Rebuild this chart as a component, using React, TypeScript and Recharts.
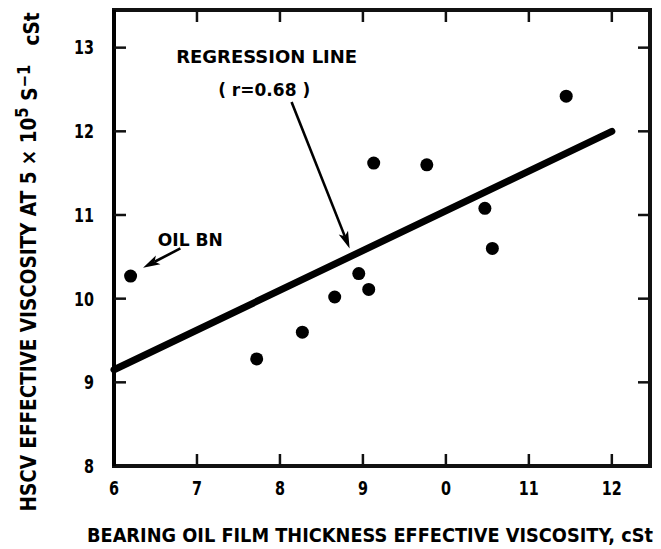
import React from "react";
import {
  ScatterChart,
  Scatter,
  XAxis,
  YAxis,
  ReferenceLine,
  ReferenceDot,
} from "recharts";

// bearing film-thickness viscosity (cSt) vs HSCV effective viscosity (cSt)
const bearingVisc = [6.2, 7.72, 8.27, 8.66, 8.95, 9.07, 9.13, 9.77, 10.47, 10.56, 11.45];
const hscvVisc = [10.27, 9.28, 9.6, 10.02, 10.3, 10.11, 11.62, 11.6, 11.08, 10.6, 12.42];

const xTicks = [6, 7, 8, 9, 10, 11, 12];
const xTickLabels = ["6", "7", "8", "9", "0", "11", "12"];
const yTicks = [8, 9, 10, 11, 12, 13];

// fitted line end points
const regressionX = [6, 12];
const regressionY = [9.15, 12.0];

// annotation text and where it sits (data units)
const noteText = ["REGRESSION LINE", "( r=0.68 )", "OIL BN"];
const noteX = [7.84, 7.81, 6.92];
const noteY = [12.89, 12.5, 10.71];

// pointer arrows: [from, to] in data units
const arrowFrom = [
  { x: 8.14, y: 12.35 },
  { x: 6.8, y: 10.6 },
];
const arrowTo = [
  { x: 8.84, y: 10.6 },
  { x: 6.35, y: 10.37 },
];

const points = bearingVisc.map((x, i) => ({ x, y: hscvVisc[i] }));

// layout
const W = 661;
const H = 549;
const M_TOP = 10;
const M_RIGHT = 11;
const Y_AXIS_W = 114;
const X_AXIS_H = 83;
const PLOT_LEFT = Y_AXIS_W;
const PLOT_RIGHT = W - M_RIGHT;
const PLOT_TOP = M_TOP;
const PLOT_BOTTOM = H - X_AXIS_H;
const STUB = 12;
const INK = "#111";

const FONT = "'DejaVu Sans', sans-serif";
const noteLength = [181, 92, 65];

const Dot = (p: any) => <circle cx={p.cx} cy={p.cy} r={6.5} fill="#000" />;

const Arrow = (p: any) => {
  const a = Math.atan2(p.y2 - p.y1, p.x2 - p.x1);
  const len = 17;
  const half = 5;
  const bx = p.x2 - len * Math.cos(a);
  const by = p.y2 - len * Math.sin(a);
  const nx = -Math.sin(a) * half;
  const ny = Math.cos(a) * half;
  const mx = bx + 4 * Math.cos(a);
  const my = by + 4 * Math.sin(a);
  return (
    <g>
      <line x1={p.x1} y1={p.y1} x2={mx} y2={my} stroke="#000" strokeWidth={2.6} />
      <polygon points={`${p.x2},${p.y2} ${bx + nx},${by + ny} ${mx},${my} ${bx - nx},${by - ny}`} fill="#000" />
    </g>
  );
};

const noteLabel = (text: string, len: number) => (props: any) => {
  const vb = props.viewBox;
  const cx = vb.x + vb.width / 2;
  const cy = vb.y + vb.height / 2;
  return (
    <text
      x={cx}
      y={cy}
      dy="0.36em"
      textAnchor="middle"
      textLength={len}
      lengthAdjust="spacingAndGlyphs"
      fontFamily={FONT}
      fontWeight="bold"
      fontSize={18}
      fill="#000"
    >
      {text}
    </text>
  );
};

// tick label plus inward marks on the bottom and top edges
const XTick = (p: any) => {
  const value = p.payload.value;
  const label = xTickLabels[xTicks.indexOf(value)];
  return (
    <g>
      {value !== xTicks[0] && (
        <>
          <line x1={p.x} x2={p.x} y1={PLOT_BOTTOM} y2={PLOT_BOTTOM - STUB} stroke={INK} strokeWidth={2.5} />
          <line x1={p.x} x2={p.x} y1={PLOT_TOP} y2={PLOT_TOP + STUB} stroke={INK} strokeWidth={2.5} />
        </>
      )}
      <text
        x={p.x}
        y={p.y}
        dy="0.71em"
        textAnchor="middle"
        textLength={label.length * 10}
        lengthAdjust="spacingAndGlyphs"
        fontFamily={FONT}
        fontWeight="bold"
        fontSize={19}
        fill="#000"
      >
        {label}
      </text>
    </g>
  );
};

// tick label plus inward marks on the left and right edges
const YTick = (p: any) => {
  const value = p.payload.value;
  const label = String(value);
  return (
    <g>
      {value !== yTicks[0] && (
        <>
          <line y1={p.y} y2={p.y} x1={PLOT_LEFT} x2={PLOT_LEFT + STUB} stroke={INK} strokeWidth={2.5} />
          <line y1={p.y} y2={p.y} x1={PLOT_RIGHT} x2={PLOT_RIGHT - STUB} stroke={INK} strokeWidth={2.5} />
        </>
      )}
      <text
        x={p.x}
        y={p.y}
        dy="0.36em"
        textAnchor="end"
        textLength={label.length * 10}
        lengthAdjust="spacingAndGlyphs"
        fontFamily={FONT}
        fontWeight="bold"
        fontSize={19}
        fill="#000"
      >
        {label}
      </text>
    </g>
  );
};

// x title, drawn together with the box around the plot
const XTitle = (props: any) => {
  const vb = props.viewBox;
  return (
    <g>
      <rect
        x={vb.x}
        y={PLOT_TOP}
        width={vb.width}
        height={vb.y - PLOT_TOP}
        fill="none"
        stroke={INK}
        strokeWidth={4}
      />
      <text
        x={vb.x + vb.width / 2 - 12}
        y={vb.y + 76}
        textAnchor="middle"
        textLength={566}
        lengthAdjust="spacingAndGlyphs"
        fontFamily={FONT}
        fontWeight="bold"
        fontSize={20}
        fill="#000"
      >
        BEARING OIL FILM THICKNESS EFFECTIVE VISCOSITY, cSt
      </text>
    </g>
  );
};

const YTitle = (props: any) => {
  const vb = props.viewBox;
  const cx = 28;
  const cy = vb.y + vb.height / 2 + 24;
  return (
    <text
      x={cx}
      y={cy}
      dy="0.36em"
      transform={`rotate(-90, ${cx}, ${cy})`}
      textAnchor="middle"
      textLength={499}
      lengthAdjust="spacingAndGlyphs"
      fontFamily={FONT}
      fontWeight="bold"
      fontSize={21}
      fill="#000"
    >
      HSCV EFFECTIVE VISCOSITY AT 5 × 10
      <tspan dy="-0.45em" fontSize={17}>5</tspan>
      <tspan dy="0.45em"> S</tspan>
      <tspan dy="-0.45em" fontSize={17}>−1</tspan>
      <tspan dy="0.45em">{"\u00a0\u00a0\u00a0cSt"}</tspan>
    </text>
  );
};

export default function App() {
  return (
    <div style={{ position: "absolute", left: 0, top: 0, width: W, height: H, background: "#fff" }}>
      <ScatterChart width={W} height={H} margin={{ top: M_TOP, right: M_RIGHT, bottom: 0, left: 0 }}>
        <XAxis
          dataKey="x"
          type="number"
          domain={[6, 12.46]}
          ticks={xTicks}
          allowDataOverflow
          height={X_AXIS_H}
          axisLine={{ stroke: "#000", strokeWidth: 4 }}
          tickLine={false}
          tickMargin={10}
          tick={<XTick />}
          label={{ content: XTitle }}
        />
        <YAxis
          dataKey="y"
          type="number"
          domain={[8, 13.45]}
          ticks={yTicks}
          allowDataOverflow
          width={Y_AXIS_W}
          axisLine={{ stroke: "#000", strokeWidth: 4 }}
          tickLine={false}
          tickMargin={14}
          tick={<YTick />}
          label={{ content: YTitle }}
        />
        <Scatter data={points} fill="#000" shape={Dot} isAnimationActive={false} />
        <ReferenceLine
          segment={[
            { x: regressionX[0], y: regressionY[0] },
            { x: regressionX[1], y: regressionY[1] },
          ]}
          stroke="#000"
          strokeWidth={7}
          strokeLinecap="round"
        />
        {arrowFrom.map((f, i) => (
          <ReferenceLine key={`arrow-${i}`} segment={[f, arrowTo[i]]} shape={Arrow} />
        ))}
        {noteText.map((t, i) => (
          <ReferenceDot
            key={`note-${i}`}
            x={noteX[i]}
            y={noteY[i]}
            r={1}
            fill="none"
            stroke="none"
            label={{ content: noteLabel(t, noteLength[i]) }}
          />
        ))}
      </ScatterChart>
    </div>
  );
}
